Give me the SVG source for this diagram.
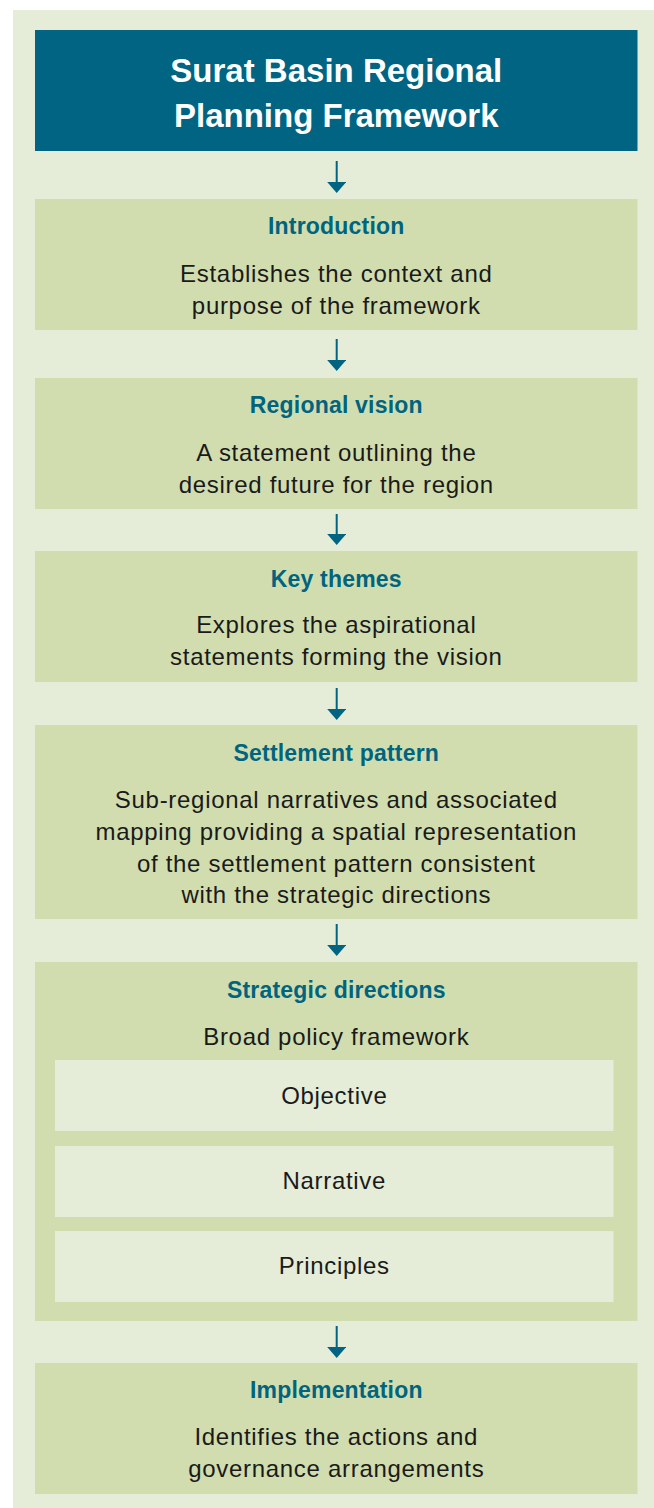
<svg xmlns="http://www.w3.org/2000/svg" width="654" height="1508" viewBox="0 0 654 1508">
<style>
.bg{fill:#e5ecd7}
.box{fill:#d1ddaf}
.inner{fill:#e5ecd7}
.head{fill:#006482}
.ttl{font-family:"Liberation Sans",Arial,sans-serif;font-weight:bold;font-size:23px;fill:#00647f;text-anchor:middle;letter-spacing:0.2px}
.body{font-family:"Liberation Sans",Arial,sans-serif;font-size:24px;fill:#1a1a1a;text-anchor:middle;letter-spacing:0.7px}
.main{font-family:"Liberation Sans",Arial,sans-serif;font-weight:bold;font-size:33px;fill:#ffffff;text-anchor:middle}
.conn{stroke:#006482;stroke-width:2;fill:none;marker-end:url(#ah)}
</style>
<defs>
<marker id="ah" viewBox="0 0 11 19" refX="7" refY="9.5" markerWidth="11" markerHeight="19" markerUnits="userSpaceOnUse" orient="auto">
<path d="M0,0 L11,9.5 L0,19 Z" fill="#006482"/>
</marker>
</defs>
<rect class="bg" x="13" y="10" width="641" height="1498"/>
<g id="title">
<rect class="head" x="35" y="30" width="602.5" height="121"/>
<text class="main" x="336.3" y="82">Surat Basin Regional</text>
<text class="main" x="336.3" y="127">Planning Framework</text>
</g>
<g id="introduction">
<rect class="box" x="35" y="199" width="602.5" height="131"/>
<text class="ttl" x="336.3" y="234">Introduction</text>
<text class="body" x="336.3" y="282">Establishes the context and</text>
<text class="body" x="336.3" y="314">purpose of the framework</text>
</g>
<g id="regional-vision">
<rect class="box" x="35" y="378" width="602.5" height="131"/>
<text class="ttl" x="336.3" y="413">Regional vision</text>
<text class="body" x="336.3" y="461">A statement outlining the</text>
<text class="body" x="336.3" y="493">desired future for the region</text>
</g>
<g id="key-themes">
<rect class="box" x="35" y="551" width="602.5" height="131"/>
<text class="ttl" x="336.3" y="587">Key themes</text>
<text class="body" x="336.3" y="633">Explores the aspirational</text>
<text class="body" x="336.3" y="665">statements forming the vision</text>
</g>
<g id="settlement-pattern">
<rect class="box" x="35" y="725" width="602.5" height="194"/>
<text class="ttl" x="336.3" y="761">Settlement pattern</text>
<text class="body" x="336.3" y="808">Sub-regional narratives and associated</text>
<text class="body" x="336.3" y="840">mapping providing a spatial representation</text>
<text class="body" x="336.3" y="872">of the settlement pattern consistent</text>
<text class="body" x="336.3" y="903">with the strategic directions</text>
</g>
<g id="strategic-directions">
<rect class="box" x="35" y="962" width="602.5" height="359"/>
<text class="ttl" x="336.3" y="998">Strategic directions</text>
<text class="body" x="336.3" y="1045">Broad policy framework</text>
<g id="objective">
<rect class="inner" x="55" y="1060" width="558.5" height="71"/>
<text class="body" x="334.3" y="1104">Objective</text>
</g>
<g id="narrative">
<rect class="inner" x="55" y="1146" width="558.5" height="71"/>
<text class="body" x="334.3" y="1189">Narrative</text>
</g>
<g id="principles">
<rect class="inner" x="55" y="1231" width="558.5" height="71"/>
<text class="body" x="334.3" y="1274">Principles</text>
</g>
</g>
<g id="implementation">
<rect class="box" x="35" y="1363" width="602.5" height="131"/>
<text class="ttl" x="336.3" y="1398">Implementation</text>
<text class="body" x="336.3" y="1445">Identifies the actions and</text>
<text class="body" x="336.3" y="1477">governance arrangements</text>
</g>
<g id="connectors">
<line class="conn" x1="336.7" y1="161" x2="336.7" y2="189"/>
<line class="conn" x1="336.7" y1="339" x2="336.7" y2="367"/>
<line class="conn" x1="336.7" y1="514" x2="336.7" y2="541"/>
<line class="conn" x1="336.7" y1="688" x2="336.7" y2="716"/>
<line class="conn" x1="336.7" y1="924" x2="336.7" y2="952"/>
<line class="conn" x1="336.7" y1="1326" x2="336.7" y2="1354"/>
</g>
</svg>
